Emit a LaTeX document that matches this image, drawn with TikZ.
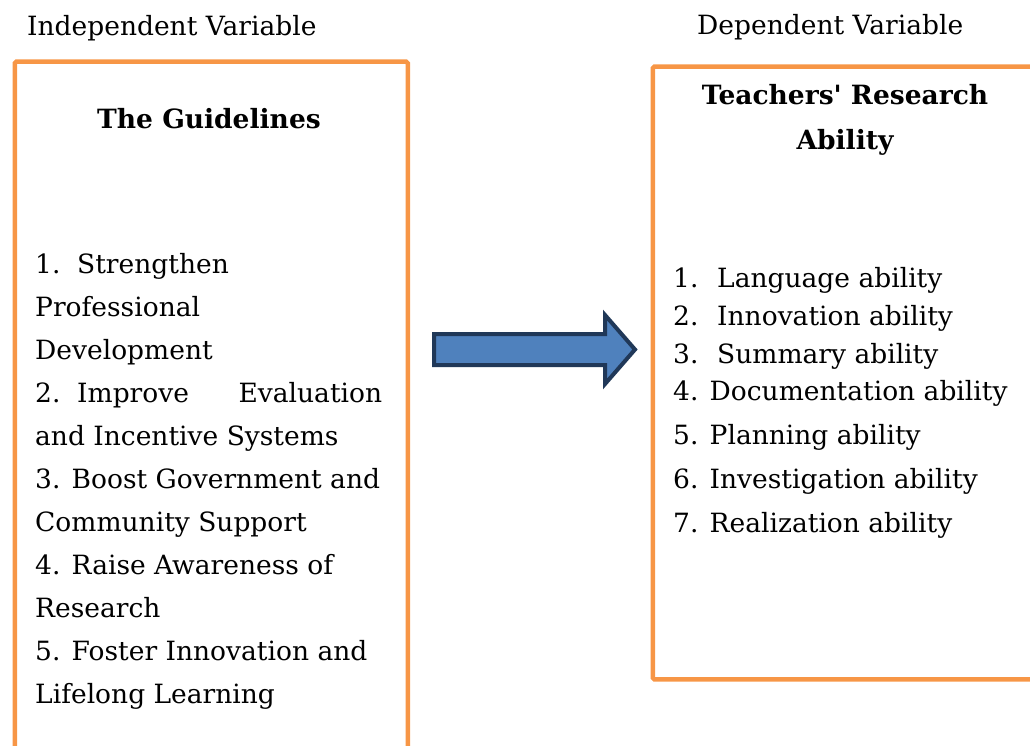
\documentclass[tikz,border=0pt]{standalone}
\usepackage{fontspec}
\setmainfont{DejaVu Serif}
\usepackage{xcolor}
\usepackage{tikz}
\definecolor{boxorange}{RGB}{247,150,70}
\definecolor{arrowblue}{RGB}{79,129,189}
\definecolor{arrownavy}{RGB}{32,56,88}
\newcommand{\tabno}[2][42pt]{\makebox[#1][l]{#2}}
\tikzset{
  varbox/.style={draw=boxorange,line width=4.5pt,rounded corners=1.5pt,
    inner sep=0pt,anchor=north west},
  varlabel/.style={font=\fontsize{26.5}{32}\selectfont,inner sep=0pt,anchor=base west},
  vartitle/.style={font=\bfseries\fontsize{26.5}{45}\selectfont,inner sep=0pt,
    anchor=base,align=center},
  itemlist/.style={inner sep=0pt,anchor=base west,align=left}, % base = last line
  blockarrow/.style={draw=arrownavy,fill=arrowblue,line width=4pt,line join=miter}
}

\begin{document}
\begin{tikzpicture}[x=1pt,y=-1pt]
  \useasboundingbox (0,0) rectangle (1030,746);
  \clip (0,0) rectangle (1030,746);
  % headings over the two boxes
  \node[varlabel] (ivlabel) at (27,36) {Independent Variable};
  \node[varlabel] (dvlabel) at (697,35) {Dependent Variable};
  % boxes (both run off the page)
  \node[varbox,minimum width=393pt,minimum height=730pt] (guidebox) at (12.5,59.5) {};
  \node[varbox,minimum width=400pt,minimum height=612.5pt] (abilitybox) at (650.5,64.5) {};
  \node[vartitle] (guidetitle) at (209,129) {The Guidelines};
  \node[vartitle] (abilitytitle) at (845,150) {Teachers\textquotesingle{} Research\\Ability};
  \node[itemlist,font=\fontsize{26.5}{43}\selectfont] (guidelist) at (35,703) {%
    \tabno{1.}Strengthen\\
    Professional\\
    Development\\
    \makebox[347pt][l]{\tabno{2.}Improve\hfill Evaluation}\\
    and Incentive Systems\\
    3. Boost Government and\\
    Community Support\\
    4. Raise Awareness of\\
    Research\\
    5. Foster Innovation and\\
    Lifelong Learning};
  \node[itemlist,font=\fontsize{26.5}{44}\selectfont] (abilitylist) at (673,532) {%
    \tabno[44pt]{1.}Language ability\\[-6pt]
    \tabno[44pt]{2.}Innovation ability\\[-6pt]
    \tabno[44pt]{3.}Summary ability\\[-7pt]
    4. Documentation ability\\
    5. Planning ability\\
    6. Investigation ability\\
    7. Realization ability};
  % block arrow from the guidelines to the ability
  \draw[blockarrow] (434,334) -- (605,334) -- (605,315) -- (635,349.5)
    -- (605,384) -- (605,365) -- (434,365) -- cycle;
\end{tikzpicture}
\end{document}
